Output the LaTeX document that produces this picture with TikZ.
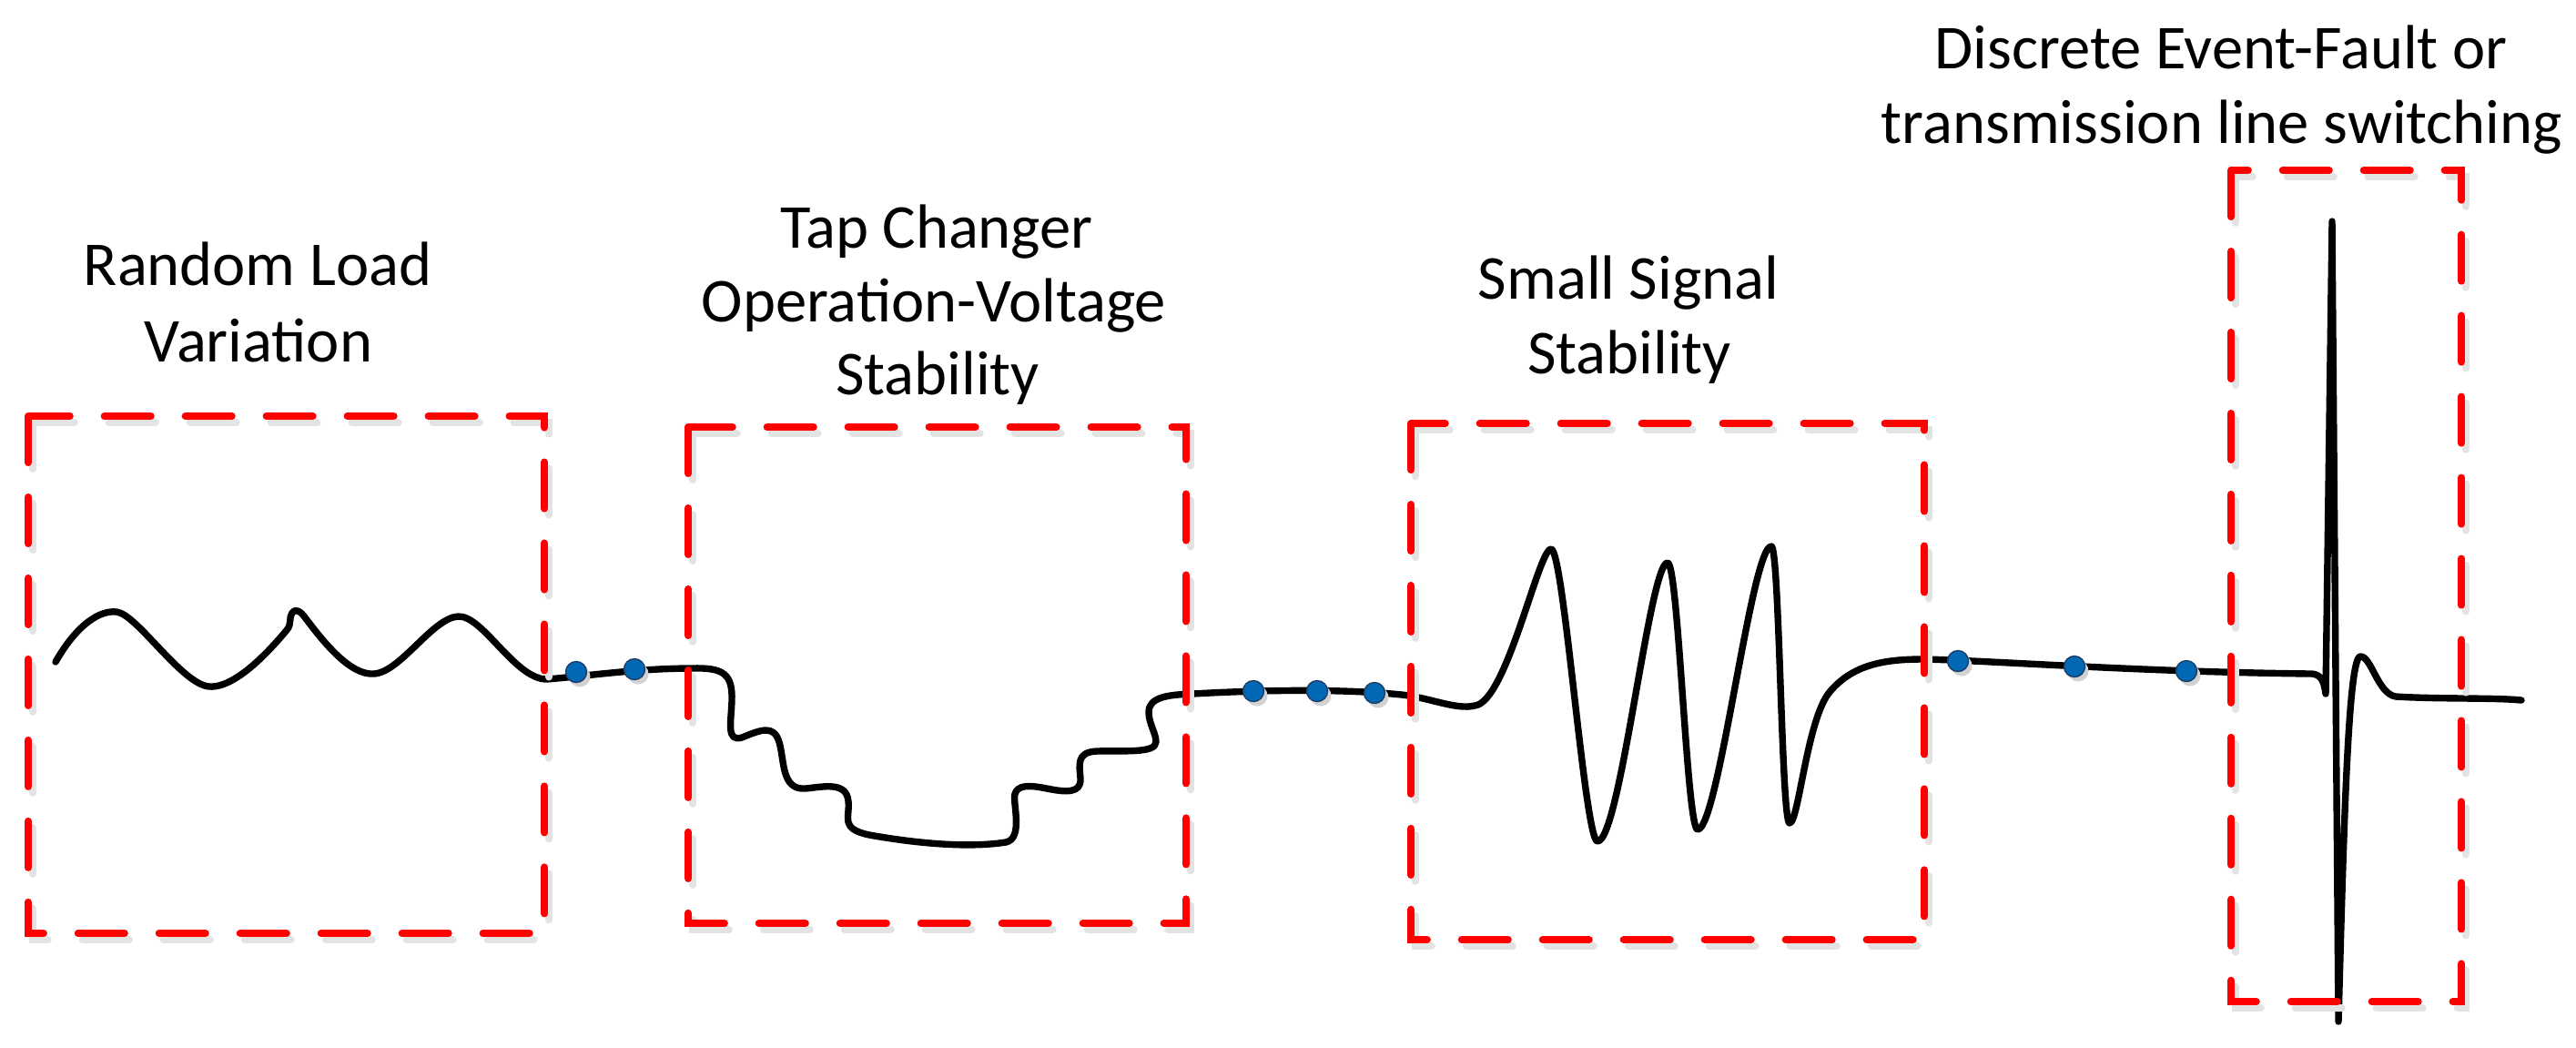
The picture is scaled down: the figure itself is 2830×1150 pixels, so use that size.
\documentclass[tikz,border=0pt]{standalone}
\usepackage{fontspec}
\setmainfont{Carlito}
\usetikzlibrary{shadows}
\definecolor{dotblue}{RGB}{0,104,180}
\definecolor{dotedge}{RGB}{30,60,100}
\definecolor{boxred}{RGB}{255,0,0}
\begin{document}
\begin{tikzpicture}[x=0.01cm,y=-0.01cm,
  wave/.style={line width=2.1pt, line join=round, line cap=round, black},
  redbox/.style={draw=boxred, line width=2.3pt, line cap=round, dash pattern=on 14.5pt off 10.8pt},
  boxshade/.style={draw=gray!22, line width=2.3pt, line cap=round, dash pattern=on 14.5pt off 10.8pt},
  dotnode/.style={circle, minimum size=0.23cm, inner sep=0pt, fill=dotblue, draw=dotedge, line width=0.4pt,
    drop shadow={shadow xshift=0.04cm, shadow yshift=-0.05cm, fill=gray!35, opacity=1}},
  lbl/.style={anchor=base, inner sep=0pt, font=\fontsize{19.5}{23.3}\selectfont}]
\useasboundingbox (0,0) rectangle (2830,1150);

% labels
\node[lbl] (t1a) at (283,313) {Random Load};
\node[lbl] (t1b) at (284,397) {Variation};
\node[lbl] (t2a) at (1029,272) {Tap Changer};
\node[lbl] (t2b) at (1026,353) {Operation-Voltage};
\node[lbl] (t2c) at (1030,433) {Stability};
\node[lbl] (t3a) at (1789,328) {Small Signal};
\node[lbl] (t3b) at (1790,410) {Stability};
\node[lbl] (t4a) at (2440,75) {Discrete Event-Fault or};
\node[lbl] (t4b) at (2441,157) {transmission line switching};

% the waveform
\draw[wave] (61,727)
  .. controls (85,685) and (110,670) .. (128,672)
  .. controls (150,674) and (200,752) .. (230,754)
  .. controls (260,756) and (300,710) .. (315,692)
  .. controls (321,685) and (317,678) .. (321,673)
  .. controls (324,668) and (330,671) .. (335,678)
  .. controls (356,706) and (385,742) .. (411,740)
  .. controls (440,738) and (475,679) .. (503,677)
  .. controls (530,675) and (565,745) .. (600,746)
  .. controls (640,743) and (700,734) .. (760,734)
  % tap changer staircase
  .. controls (795,733) and (805,740) .. (804,770)
  .. controls (803,795) and (798,815) .. (815,810)
  .. controls (835,802) and (850,795) .. (856,815)
  .. controls (862,835) and (858,868) .. (885,866)
  .. controls (905,864) and (930,858) .. (932,880)
  .. controls (934,898) and (922,910) .. (955,917)
  .. controls (1000,925) and (1060,932) .. (1105,925)
  .. controls (1125,921) and (1112,880) .. (1115,872)
  .. controls (1118,862) and (1130,862) .. (1150,866)
  .. controls (1170,870) and (1188,872) .. (1187,855)
  .. controls (1186,840) and (1182,826) .. (1205,825)
  .. controls (1230,824) and (1270,828) .. (1270,815)
  .. controls (1270,805) and (1262,795) .. (1262,782)
  .. controls (1262,765) and (1285,763) .. (1310,762)
  .. controls (1400,757) and (1480,757) .. (1540,763)
  % small signal oscillation
  .. controls (1570,766) and (1600,780) .. (1620,775)
  .. controls (1655,772) and (1690,603) .. (1704,603)
  .. controls (1718,603) and (1741,924) .. (1755,924)
  .. controls (1780,924) and (1812,618) .. (1832,618)
  .. controls (1844,618) and (1853,911) .. (1865,911)
  .. controls (1888,911) and (1924,600) .. (1946,600)
  .. controls (1955,600) and (1957,904) .. (1966,904)
  .. controls (1976,904) and (1985,790) .. (2010,760)
  .. controls (2035,730) and (2070,724) .. (2112,724)
  .. controls (2180,725) and (2350,738) .. (2540,740)
  % discrete event spike
  .. controls (2550,741) and (2553,748) .. (2555,762)
  -- (2562,243) -- (2569,1122)
  .. controls (2575,900) and (2580,722) .. (2593,721)
  .. controls (2605,720) and (2612,762) .. (2632,765)
  .. controls (2680,768) and (2740,766) .. (2770,769);

% dots on the curve
\node[dotnode] (d1) at (633,738) {};
\node[dotnode] (d2) at (697,735) {};
\node[dotnode] (d3) at (1377,759) {};
\node[dotnode] (d4) at (1447,759) {};
\node[dotnode] (d5) at (1510,761) {};
\node[dotnode] (d6) at (2151,726) {};
\node[dotnode] (d7) at (2279,732) {};
\node[dotnode] (d8) at (2402,737) {};

% box shadows
\begin{scope}[shift={(5,7)}]
\draw[boxshade] (31,457) rectangle (598,1025);
\draw[boxshade] (756,469) rectangle (1303,1014);
\draw[boxshade] (1550,465) rectangle (2114,1032);
\draw[boxshade] (2451,187) rectangle (2704,1100);
\end{scope}
% dashed boxes
\draw[redbox] (31,457) rectangle (598,1025);
\draw[redbox] (756,469) rectangle (1303,1014);
\draw[redbox] (1550,465) rectangle (2114,1032);
\draw[redbox] (2451,187) rectangle (2704,1100);
\end{tikzpicture}
\end{document}
